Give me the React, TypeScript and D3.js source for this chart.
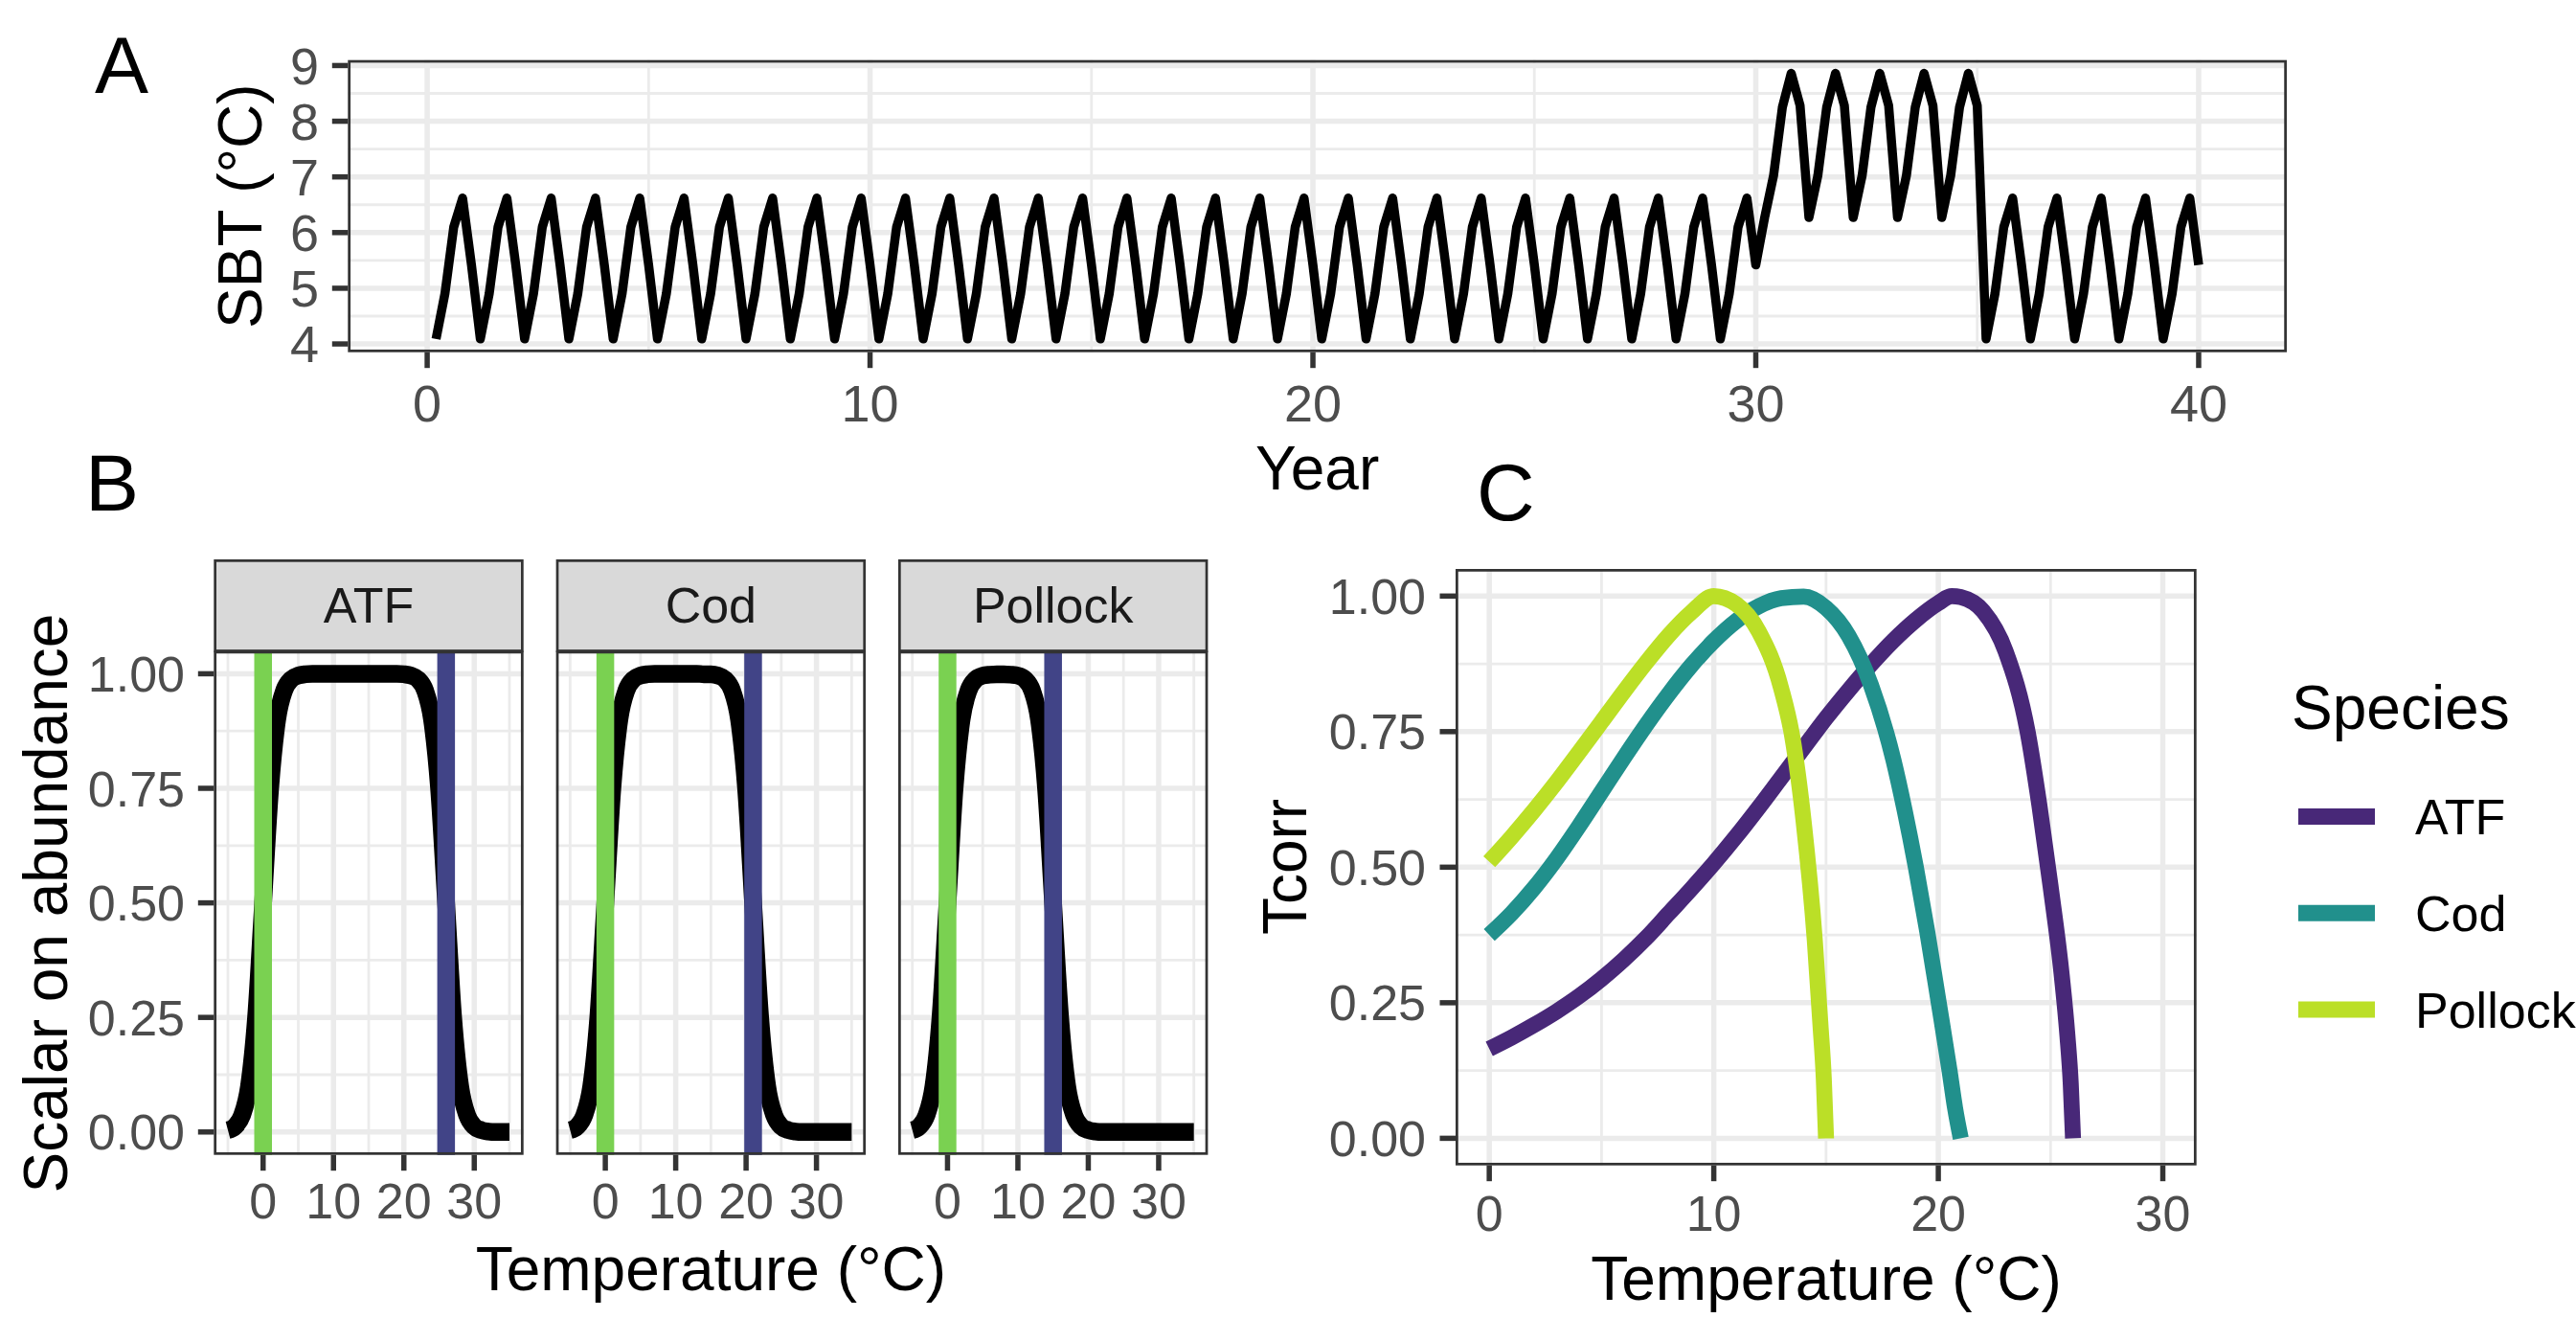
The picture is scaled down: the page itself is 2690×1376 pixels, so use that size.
import React from "react";
import * as d3 from "d3";

const W = 2690;
const H = 1376;
const FONT = "'Liberation Sans', Arial, Helvetica, sans-serif";

// ---------- Panel A data (SBT time series, 5 samples per year) ----------
const seasonPhase = [0.0, 0.2, 0.4, 0.6, 0.8];
const normalSBT = [5.42, 4.09, 4.9, 6.1, 6.62];
const warmSBT = [8.28, 6.27, 7.02, 8.25, 8.86];
const seriesStart = 0.2;
const seriesEnd = 40.0;
const warmFrom = 30.2;
const warmTo = 35.0;
const yearTicks = [0, 10, 20, 30, 40];
const sbtTicks = [4, 5, 6, 7, 8, 9];

// ---------- Panel B data (scalar on abundance) ----------
const speciesNames = ["ATF", "Cod", "Pollock"];
const tempsB = [-5, -4, -3, -2, -1, 0, 1, 2, 3, 4, 5, 6, 7, 8, 9, 10, 11, 12, 13, 14, 15, 16, 17, 18, 19, 20, 21, 22, 23, 24, 25, 26, 27, 28, 29, 30, 31, 32, 33, 34, 35];
const atfScalar = [0.004, 0.012, 0.036, 0.1, 0.25, 0.5, 0.75, 0.9, 0.964, 0.988, 0.996, 0.999, 1, 1, 1, 1, 1, 1, 1, 1, 1, 1, 1, 1, 1, 0.999, 0.996, 0.988, 0.964, 0.9, 0.75, 0.5, 0.25, 0.1, 0.036, 0.012, 0.004, 0.001, 0, 0, 0];
const codScalar = [0.004, 0.012, 0.036, 0.1, 0.25, 0.5, 0.75, 0.9, 0.964, 0.988, 0.996, 0.999, 1, 1, 1, 1, 1, 1, 1, 0.999, 0.999, 0.996, 0.988, 0.964, 0.9, 0.75, 0.5, 0.25, 0.1, 0.036, 0.012, 0.004, 0.001, 0, 0, 0, 0, 0, 0, 0, 0];
const pollockScalar = [0.004, 0.012, 0.036, 0.1, 0.25, 0.5, 0.75, 0.9, 0.964, 0.988, 0.996, 0.998, 0.999, 0.999, 0.998, 0.996, 0.988, 0.964, 0.9, 0.75, 0.5, 0.25, 0.1, 0.036, 0.012, 0.004, 0.001, 0, 0, 0, 0, 0, 0, 0, 0, 0, 0, 0, 0, 0, 0];
const lowerTemp = [0, 0, 0];
const upperTemp = [26, 21, 15];
const tempTicksB = [0, 10, 20, 30];
const scalarTicks = [0, 0.25, 0.5, 0.75, 1];

// ---------- Panel C data (Tcorr) ----------
const atfT = [0, 1, 2, 3, 4, 5, 6, 7, 8, 9, 10, 11, 12, 13, 14, 15, 16, 17, 18, 19, 20, 20.6, 21, 22, 23, 24, 24.5, 25, 25.5, 25.75, 25.9, 26];
const atfTcorr = [0.165, 0.186, 0.209, 0.234, 0.262, 0.294, 0.33, 0.37, 0.415, 0.46, 0.507, 0.557, 0.61, 0.665, 0.72, 0.775, 0.826, 0.874, 0.918, 0.956, 0.987, 1.0, 0.998, 0.972, 0.898, 0.745, 0.615, 0.465, 0.3, 0.19, 0.1, 0];
const codT = [0, 1, 2, 3, 4, 5, 6, 7, 8, 9, 10, 11, 12, 13, 14, 15, 16, 17, 18, 18.5, 19, 19.5, 20, 20.5, 20.75, 21];
const codTcorr = [0.375, 0.415, 0.462, 0.516, 0.576, 0.639, 0.702, 0.763, 0.82, 0.872, 0.917, 0.954, 0.981, 0.996, 0.999, 0.978, 0.927, 0.836, 0.698, 0.605, 0.5, 0.383, 0.255, 0.125, 0.055, 0];
const pollockT = [0, 1, 2, 3, 4, 5, 6, 7, 8, 9, 10, 11, 12, 13, 13.5, 14, 14.5, 14.75, 14.9, 15];
const pollockTcorr = [0.51, 0.556, 0.605, 0.657, 0.712, 0.768, 0.824, 0.878, 0.928, 0.97, 1.0, 0.985, 0.935, 0.83, 0.74, 0.585, 0.365, 0.21, 0.11, 0];
const tempRangeC = [0, 30];
const tempTicksC = [0, 10, 20, 30];
const tcorrTicks = [0, 0.25, 0.5, 0.75, 1];
const speciesColors = ["#482878", "#21908C", "#BBDF27"];
const vlineLowColor = "#7AD151";
const vlineHighColor = "#414487";

// ---------- style constants ----------
const GRID = "#EBEBEB";
const DARK = "#333333";
const TICKTXT = "#4D4D4D";
const MAJOR_W = 5.5;
const MINOR_W = 2.8;
const TICK_LEN = 16.5;
const TICK_W = 5.5;
const BORDER_W = 2.75;

const expand = (ext: number[]) => {
  const [a, b] = ext;
  const d = (b - a) * 0.05;
  return [a - d, b + d];
};

function minorBreaks(major: number[], domain: number[]) {
  const step = major[1] - major[0];
  const out: number[] = [];
  const lo = Math.min(domain[0], domain[1]);
  const hi = Math.max(domain[0], domain[1]);
  for (let v = major[0] - step / 2; v <= major[major.length - 1] + step / 2 + 1e-9; v += step) {
    if (v > lo && v < hi) out.push(v);
  }
  return out;
}

function PanelBg({ x, y, xTicks, yTicks }: any) {
  const [x0, x1] = x.range();
  const [y0, y1] = y.range();
  const xMin = minorBreaks(xTicks, x.domain());
  const yMin = minorBreaks(yTicks, y.domain());
  const xMaj = xTicks.filter((v: number) => v >= x.domain()[0] && v <= x.domain()[1]);
  const yMaj = yTicks.filter((v: number) => v >= y.domain()[0] && v <= y.domain()[1]);
  return (
    <g>
      <rect x={x0} y={y1} width={x1 - x0} height={y0 - y1} fill="#fff" />
      {yMin.map((v: number, i: number) => (
        <line key={"ym" + i} x1={x0} x2={x1} y1={y(v)} y2={y(v)} stroke={GRID} strokeWidth={MINOR_W} />
      ))}
      {xMin.map((v: number, i: number) => (
        <line key={"xm" + i} x1={x(v)} x2={x(v)} y1={y0} y2={y1} stroke={GRID} strokeWidth={MINOR_W} />
      ))}
      {yMaj.map((v: number, i: number) => (
        <line key={"yM" + i} x1={x0} x2={x1} y1={y(v)} y2={y(v)} stroke={GRID} strokeWidth={MAJOR_W} />
      ))}
      {xMaj.map((v: number, i: number) => (
        <line key={"xM" + i} x1={x(v)} x2={x(v)} y1={y0} y2={y1} stroke={GRID} strokeWidth={MAJOR_W} />
      ))}
    </g>
  );
}

function PanelBorder({ x, y }: any) {
  const [x0, x1] = x.range();
  const [y0, y1] = y.range();
  const h = BORDER_W / 2;
  return (
    <rect x={x0 + h} y={y1 + h} width={x1 - x0 - BORDER_W} height={y0 - y1 - BORDER_W} fill="none" stroke={DARK} strokeWidth={BORDER_W} />
  );
}

function XAxis({ x, y, ticks, fontSize, baseline, fmt }: any) {
  const yb = y.range()[0];
  return (
    <g>
      {ticks.map((v: number, i: number) => (
        <g key={i}>
          <line x1={x(v)} x2={x(v)} y1={yb} y2={yb + TICK_LEN} stroke={DARK} strokeWidth={TICK_W} />
          <text x={x(v)} y={baseline} textAnchor="middle" fontSize={fontSize} fill={TICKTXT} fontFamily={FONT}>
            {fmt ? fmt(v) : String(v)}
          </text>
        </g>
      ))}
    </g>
  );
}

function YAxis({ x, y, ticks, fontSize, labelEnd, fmt }: any) {
  const xl = x.range()[0];
  return (
    <g>
      {ticks.map((v: number, i: number) => (
        <g key={i}>
          <line x1={xl - TICK_LEN} x2={xl} y1={y(v)} y2={y(v)} stroke={DARK} strokeWidth={TICK_W} />
          <text x={labelEnd} y={y(v) + fontSize * 0.358} textAnchor="end" fontSize={fontSize} fill={TICKTXT} fontFamily={FONT}>
            {fmt ? fmt(v) : String(v)}
          </text>
        </g>
      ))}
    </g>
  );
}

export default function App() {
  // ----- Panel A series -----
  const sbt: { t: number; v: number }[] = [];
  for (let yr = 0; yr <= 40; yr++) {
    seasonPhase.forEach((p, i) => {
      const t = Math.round((yr + p) * 10) / 10;
      if (t < seriesStart - 1e-9 || t > seriesEnd + 1e-9) return;
      const warm = t >= warmFrom - 1e-9 && t <= warmTo + 1e-9;
      sbt.push({ t, v: warm ? warmSBT[i] : normalSBT[i] });
    });
  }
  const xA = d3.scaleLinear().domain(expand([seriesStart, seriesEnd])).range([363.3, 2388]);
  const yA = d3.scaleLinear().domain(expand(d3.extent(sbt, (d) => d.v) as number[])).range([367.7, 62.7]);
  const lineA = d3
    .line<{ t: number; v: number }>()
    .x((d) => xA(d.t))
    .y((d) => yA(d.v));

  // ----- Panel B -----
  const facetW = 323.4;
  const facetGap = 33.95;
  const facetLeft0 = 223.3;
  const bTop = 679.5;
  const bBottom = 1205.7;
  const stripTop = 584;
  const scalarSeries = [atfScalar, codScalar, pollockScalar];
  const yB = d3.scaleLinear().domain(expand([0, 1])).range([bBottom, bTop]);

  // ----- Panel C -----
  const xC = d3.scaleLinear().domain(expand(tempRangeC)).range([1520, 2293.7]);
  const yC = d3.scaleLinear().domain(expand([0, 1])).range([1216.7, 594]);
  const cSeries = [
    { t: atfT, v: atfTcorr },
    { t: codT, v: codTcorr },
    { t: pollockT, v: pollockTcorr },
  ];
  const lineC = d3
    .line<[number, number]>()
    .x((d) => xC(d[0]))
    .y((d) => yC(d[1]))
    .curve(d3.curveMonotoneX);

  const fmt2 = (v: number) => v.toFixed(2);

  return (
    <svg width={W} height={H} style={{ position: "absolute", left: 0, top: 0, background: "#fff" }} fontFamily={FONT}>
      <rect x={0} y={0} width={W} height={H} fill="#fff" />
      <defs>
        <clipPath id="clipA">
          <rect x={363.3} y={62.7} width={2388 - 363.3} height={367.7 - 62.7} />
        </clipPath>
        {speciesNames.map((s, i) => {
          const L = facetLeft0 + i * (facetW + facetGap);
          return (
            <clipPath id={"clipB" + i} key={s}>
              <rect x={L} y={bTop} width={facetW} height={bBottom - bTop} />
            </clipPath>
          );
        })}
        <clipPath id="clipC">
          <rect x={1520} y={594} width={2293.7 - 1520} height={1216.7 - 594} />
        </clipPath>
      </defs>

      {/* ================= Panel A ================= */}
      <PanelBg x={xA} y={yA} xTicks={yearTicks} yTicks={sbtTicks} />
      <path d={lineA(sbt) || ""} fill="none" stroke="#000" strokeWidth={9.5} strokeLinejoin="round" strokeLinecap="butt" clipPath="url(#clipA)" />
      <PanelBorder x={xA} y={yA} />
      <XAxis x={xA} y={yA} ticks={yearTicks} fontSize={54} baseline={440} />
      <YAxis x={xA} y={yA} ticks={sbtTicks} fontSize={54} labelEnd={333} />
      <text x={1375.6} y={511} textAnchor="middle" fontSize={64} fill="#000">Year</text>
      <text transform={`translate(272.7, 215.2) rotate(-90)`} textAnchor="middle" fontSize={64} fill="#000">SBT (°C)</text>
      <text x={99} y={97} fontSize={84} fill="#000">A</text>

      {/* ================= Panel B ================= */}
      {speciesNames.map((s, i) => {
        const L = facetLeft0 + i * (facetW + facetGap);
        const xB = d3.scaleLinear().domain(expand([tempsB[0], tempsB[tempsB.length - 1]])).range([L, L + facetW]);
        const lineB = d3
          .line<number>()
          .x((_, j) => xB(tempsB[j]))
          .y((d) => yB(d))
          .curve(d3.curveMonotoneX);
        return (
          <g key={s}>
            <PanelBg x={xB} y={yB} xTicks={tempTicksB} yTicks={scalarTicks} />
            <path d={lineB(scalarSeries[i]) || ""} fill="none" stroke="#000" strokeWidth={18.5} strokeLinejoin="round" strokeLinecap="butt" clipPath={`url(#clipB${i})`} />
            <line x1={xB(lowerTemp[i])} x2={xB(lowerTemp[i])} y1={bTop} y2={bBottom} stroke={vlineLowColor} strokeWidth={18.5} />
            <line x1={xB(upperTemp[i])} x2={xB(upperTemp[i])} y1={bTop} y2={bBottom} stroke={vlineHighColor} strokeWidth={18.5} />
            <PanelBorder x={xB} y={yB} />
            <rect x={L + 1.35} y={stripTop + 1.35} width={facetW - 2.7} height={bTop - stripTop - 1.35} fill="#D9D9D9" stroke={DARK} strokeWidth={2.7} />
            <text x={L + facetW / 2} y={649.5} textAnchor="middle" fontSize={52} fill="#1A1A1A">{s}</text>
            <XAxis x={xB} y={yB} ticks={tempTicksB} fontSize={52} baseline={1271.7} />
            {i === 0 && <YAxis x={xB} y={yB} ticks={scalarTicks} fontSize={52} labelEnd={193} fmt={fmt2} />}
          </g>
        );
      })}
      <text x={742.4} y={1347} textAnchor="middle" fontSize={64} fill="#000">Temperature (°C)</text>
      <text transform={`translate(70, 943) rotate(-90)`} textAnchor="middle" fontSize={64} fill="#000">Scalar on abundance</text>
      <text x={89} y={533} fontSize={84} fill="#000">B</text>

      {/* ================= Panel C ================= */}
      <PanelBg x={xC} y={yC} xTicks={tempTicksC} yTicks={tcorrTicks} />
      <g clipPath="url(#clipC)">
        {cSeries.map((s, i) => (
          <path
            key={i}
            d={lineC(s.t.map((t, j) => [t, s.v[j]] as [number, number])) || ""}
            fill="none"
            stroke={speciesColors[i]}
            strokeWidth={16.7}
            strokeLinejoin="round"
            strokeLinecap="butt"
          />
        ))}
      </g>
      <PanelBorder x={xC} y={yC} />
      <XAxis x={xC} y={yC} ticks={tempTicksC} fontSize={52} baseline={1285} />
      <YAxis x={xC} y={yC} ticks={tcorrTicks} fontSize={52} labelEnd={1489} fmt={fmt2} />
      <text x={1907} y={1357} textAnchor="middle" fontSize={64} fill="#000">Temperature (°C)</text>
      <text transform={`translate(1364, 905) rotate(-90)`} textAnchor="middle" fontSize={64} fill="#000">Tcorr</text>
      <text x={1542} y={543} fontSize={84} fill="#000">C</text>

      {/* Legend */}
      <text x={2393} y={761} fontSize={64} fill="#000">Species</text>
      {speciesNames.map((s, i) => {
        const ky = 852.6 + i * 100.7;
        return (
          <g key={s}>
            <line x1={2400} x2={2480} y1={ky} y2={ky} stroke={speciesColors[i]} strokeWidth={17} />
            <text x={2522} y={ky + 52 * 0.358} fontSize={52} fill="#000">{s}</text>
          </g>
        );
      })}
    </svg>
  );
}
